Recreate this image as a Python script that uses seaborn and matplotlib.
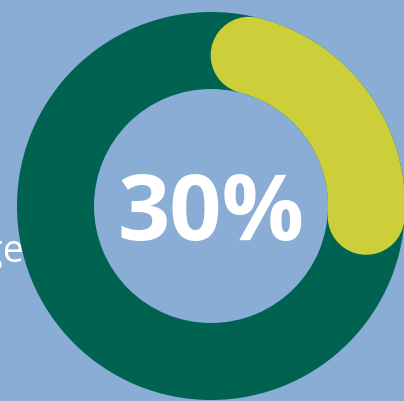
import numpy as np
import seaborn as sns
import matplotlib.pyplot as plt

# chart values
share = 30
label = "30%"
side_label = "Percentage"

bg = "#89add5"
ring_col = "#006250"
arc_col = "#cccf3a"

sns.set_theme(style="white")
plt.rcParams['font.family'] = ['Open Sans', 'DejaVu Sans']

fig = plt.figure(figsize=(4.04, 4.01), dpi=100, facecolor=bg)
ax = fig.add_axes([0, 0, 1, 1])
ax.set_facecolor(bg)

cx, cy = 211, 195
r_out, width = 194, 77

# full ring
ax.pie([100], radius=r_out, center=(cx, cy), colors=[ring_col],
       startangle=90, wedgeprops=dict(width=width, linewidth=0))

# highlighted share, drawn as a thick line with round ends
r_mid = r_out - width / 2
cap = np.degrees((width / 2) / r_mid)
a = np.linspace(cap, 360 * share / 100 - cap, 200)
t = np.radians(90 - a)
lw = width * 72 / 100
ax.plot(cx + r_mid * np.cos(t), cy + r_mid * np.sin(t), color=arc_col,
        lw=lw, solid_capstyle='round')

ax.text(cx, cy - 10, label, ha='center', va='center', color='white',
        fontsize=66, fontweight='bold')
ax.text(24, 139, side_label, ha='right', va='baseline', color='white',
        fontsize=27, zorder=0)

ax.set_xlim(0, 404)
ax.set_ylim(0, 401)
ax.set_aspect('equal')
ax.axis('off')

fig.savefig("out.png", dpi=100, facecolor=bg)
